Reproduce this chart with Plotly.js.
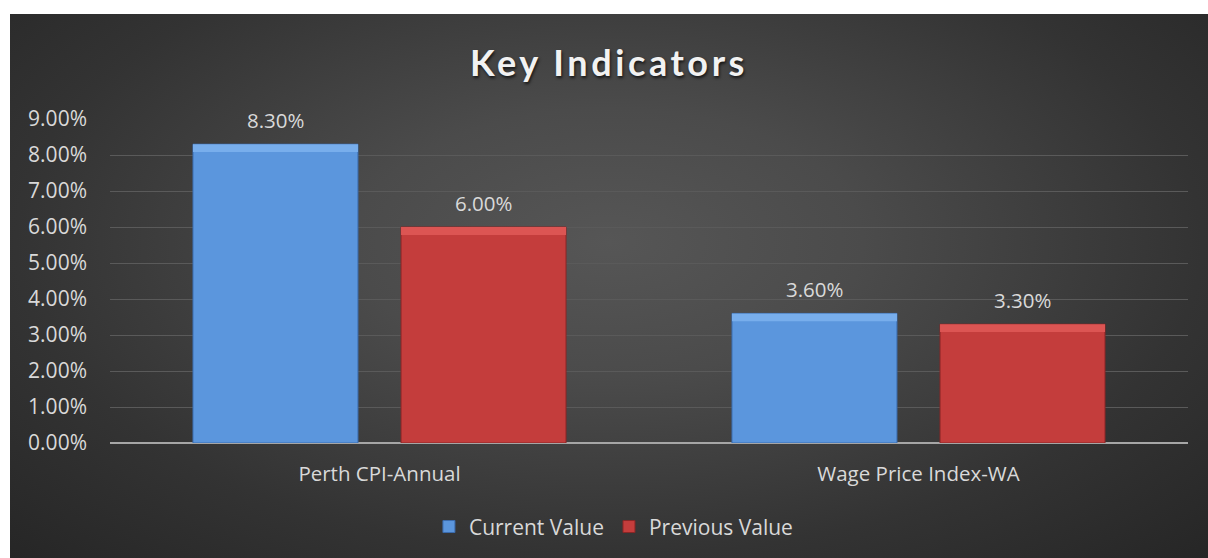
<!DOCTYPE html>
<html>
<head>
<meta charset="utf-8">
<script src="https://cdn.plot.ly/plotly-3.0.1.min.js"></script>
<style>
  html, body { margin: 0; padding: 0; background: #ffffff; }
  #chart {
    position: absolute; left: 10px; top: 14px; width: 1198px; height: 544px;
    background: radial-gradient(ellipse farthest-corner at 50% 42%, #565656 0%, #4b4b4b 30%, #333333 70%, #262626 100%);
  }
  #chart .gtitle { letter-spacing: 3.6px; }
</style>
</head>
<body>
<div id="chart"></div>
<script>
const categories = ["Perth CPI-Annual", "Wage Price Index-WA"];
const currentValues = [0.083, 0.036];
const previousValues = [0.060, 0.033];
const seriesNames = ["Current Value", "Previous Value"];
const yTickValues = [0, 0.01, 0.02, 0.03, 0.04, 0.05, 0.06, 0.07, 0.08, 0.09];

const labelColor = "#d9d9d9";
const fontFamily = "'Open Sans', 'Noto Sans', sans-serif";
const bevel = 0.0022; // thickness of the lighter top bevel strip (in axis units)

const traces = [
  {
    type: "bar", name: seriesNames[0], x: categories, y: currentValues,
    offsetgroup: "a", legendgroup: "a",
    marker: { color: "#5b96dd", line: { color: "#3b6cae", width: 1 } },
    hoverinfo: "skip"
  },
  {
    type: "bar", name: seriesNames[1], x: categories, y: previousValues,
    offsetgroup: "b", legendgroup: "b",
    marker: { color: "#c43d3c", line: { color: "#8a2626", width: 1 } },
    hoverinfo: "skip"
  },
  // lighter top bevel strips derived from the same data
  {
    type: "bar", name: seriesNames[0], x: categories,
    y: currentValues.map(() => bevel), base: currentValues.map(v => v - bevel),
    offsetgroup: "a", legendgroup: "a", showlegend: false,
    marker: { color: "#78aeec", line: { width: 0 } },
    hoverinfo: "skip"
  },
  {
    type: "bar", name: seriesNames[1], x: categories,
    y: previousValues.map(() => bevel), base: previousValues.map(v => v - bevel),
    offsetgroup: "b", legendgroup: "b", showlegend: false,
    marker: { color: "#dc5553", line: { width: 0 } },
    hoverinfo: "skip"
  }
];

// data labels above bars (placed with library scales)
const slotShift = 104; // half of a bar slot in px
const annotations = [];
[currentValues, previousValues].forEach((vals, si) => {
  vals.forEach((v, i) => {
    annotations.push({
      x: categories[i], y: v, xref: "x", yref: "y",
      text: (v * 100).toFixed(2) + "%",
      showarrow: false, yanchor: "middle", yshift: 24,
      xshift: si === 0 ? -slotShift : slotShift,
      font: { family: fontFamily, size: 20.5, color: labelColor }
    });
  });
});

const layout = {
  width: 1198, height: 544,
  paper_bgcolor: "rgba(0,0,0,0)", plot_bgcolor: "rgba(0,0,0,0)",
  margin: { l: 100, r: 20, t: 105, b: 114 },
  title: {
    text: "Key Indicators",
    x: 0.5, xanchor: "center", y: 0.91, yanchor: "middle",
    font: { family: "Lato, 'Open Sans', sans-serif", size: 36, weight: 700, color: "#f2f2f2",
            shadow: "1px 2px 3px rgba(0,0,0,0.7)" }
  },
  barmode: "group", bargap: 0.228, bargroupgap: 0.207,
  xaxis: {
    type: "category", showgrid: false, zeroline: false, showline: false,
    ticks: "", ticklabelstandoff: 16,
    tickfont: { family: fontFamily, size: 20.5, color: labelColor }
  },
  yaxis: {
    range: [0, 0.09], tickvals: yTickValues, tickformat: ".2%",
    showgrid: true, gridcolor: "#5a5a5a", gridwidth: 1,
    zeroline: true, zerolinecolor: "#a6a6a6", zerolinewidth: 2,
    showline: false, ticks: "", ticklabelstandoff: 22,
    tickfont: { family: fontFamily, size: 21, color: labelColor }
  },
  showlegend: true,
  legend: {
    orientation: "h", x: 0.467, xanchor: "center", y: -0.255, yanchor: "middle",
    font: { family: fontFamily, size: 21, color: labelColor },
    bgcolor: "rgba(0,0,0,0)", itemwidth: 30, traceorder: "normal"
  },
  annotations: annotations
};

Plotly.newPlot("chart", traces, layout, { displayModeBar: false, staticPlot: true });
</script>
</body>
</html>
